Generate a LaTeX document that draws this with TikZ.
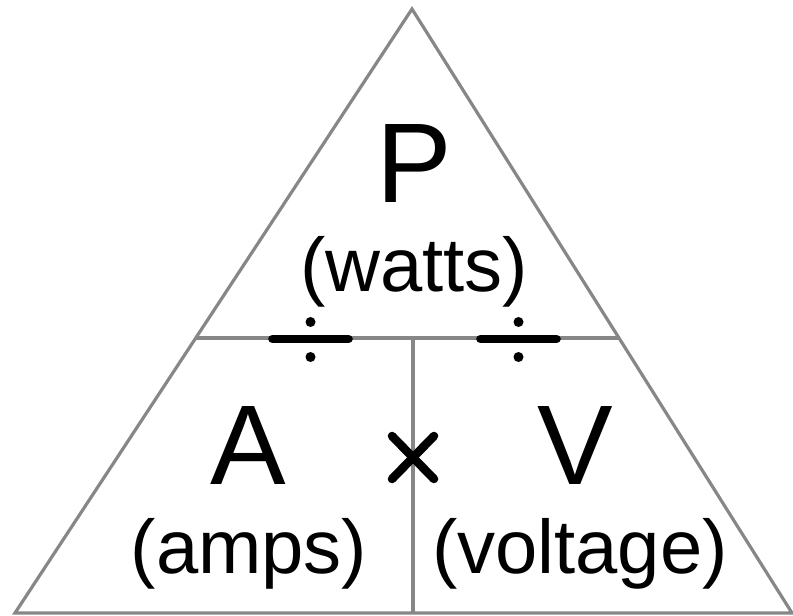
\documentclass[tikz,border=0pt]{standalone}
\usepackage{fontspec}
\setmainfont{Liberation Sans}
\usetikzlibrary{calc}

\begin{document}
\begin{tikzpicture}[
    x=0.75pt, y=-0.75pt,
    edge/.style={draw=black!47, line width=2.4pt},
    big/.style={font=\fontsize{85}{90}\selectfont, anchor=base, inner sep=0pt},
    unit/.style={font=\fontsize{57}{62}\selectfont, anchor=base, inner sep=0pt},
    bar/.style={line width=6.5pt, line cap=round},
    cross/.style={line width=6.4pt, line cap=round},
]
\useasboundingbox (0,0) rectangle (793,616);

% Triangle corners
\coordinate (apex) at (412, 9);
\coordinate (bl) at (15, 613);
\coordinate (br) at (792, 613);

% Dividers
\coordinate (ml) at ($(apex)!0.5447!(bl)$);
\coordinate (mr) at ($(apex)!0.5447!(br)$);
\coordinate (mtop) at (413, 338);
\coordinate (mbot) at (413, 613);

\draw[edge, line join=miter] (apex) -- (bl) -- (br) -- cycle;
\draw[edge] (ml) -- (mr);
\draw[edge] (mtop) -- (mbot);

% Top part
\node[big] (pw) at (414, 203) {P};
\node[unit] (watts) at (414, 292) {(watts)};

% Bottom parts
\node[big] (amp) at (248, 485) {A};
\node[unit] (amps) at (249, 574) {(amps)};
\node[big] (volt) at (575, 485) {V};
\node[unit] (voltage) at (580, 574) {(voltage)};

% Division signs
\foreach \x in {310.5, 518.5} {
    \draw[bar] (\x-38, 339) -- (\x+38, 339);
    \fill (\x, 322) circle (5);
    \fill (\x, 357) circle (5);
}

% Times sign
\draw[cross] (392, 436) -- (434, 479);
\draw[cross] (392, 479) -- (434, 436);

\end{tikzpicture}
\end{document}
